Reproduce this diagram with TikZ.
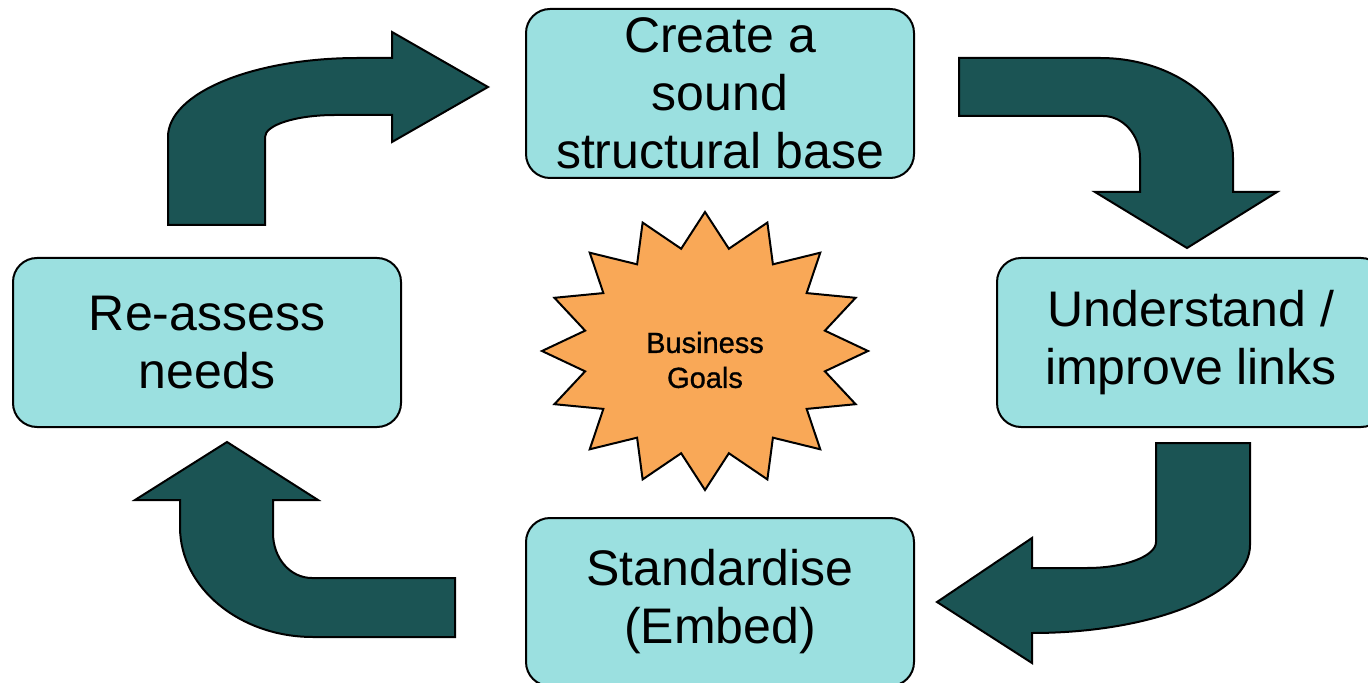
\documentclass[tikz,border=0pt]{standalone}
\usepackage{fontspec}
\setmainfont{Liberation Sans}
\newfontfamily\goalsfont[FakeBold=1]{Liberation Sans}
\usetikzlibrary{positioning}
\definecolor{stagecyan}{RGB}{155,224,224}
\definecolor{bentteal}{RGB}{27,84,84}
\definecolor{burstorange}{RGB}{249,168,87}

\begin{document}
\begin{tikzpicture}[x=0.5pt,y=-0.5pt,
    stage/.style={draw=black,line width=1pt,fill=stagecyan,rounded corners=12pt,
        align=center,inner sep=0pt,font=\fontsize{25}{29}\selectfont},
    bent/.style={draw=black,line width=1pt,fill=bentteal,line join=miter},
    burst/.style={draw=black,line width=1pt,fill=burstorange}]
    \useasboundingbox (0,0) rectangle (1368,683);
    
    \node[stage,minimum width=194pt,minimum height=84.5pt] (create) at (720,93.5)
        {Create a\\sound\\structural base};
    \node[stage,minimum width=194pt,minimum height=84.5pt] (understand) at (1191,342.5)
        {Understand /\\improve links};
    \node[stage,minimum width=194pt,minimum height=84pt] (standardise) at (720,602)
        {Standardise\\(Embed)};
    \node[stage,minimum width=194pt,minimum height=84.5pt] (reassess) at (207,342.5)
        {Re-assess\\needs};
    
    %star
    \coordinate (goalsc) at (705,351);
    \draw[burst] (868,351) \foreach \k in {1,...,31}{
        -- ({705+163*(1-0.25*mod(\k,2))*cos(11.25*\k)},{351-139*(1-0.25*mod(\k,2))*sin(11.25*\k)})
        } -- cycle;
    \node[align=center,font=\goalsfont\fontsize{14.5}{17.5}\selectfont] (goals) at (705,360) {Business\\Goals};
    
    %up and right
    \draw[bent] (168,225) -- (168,137) .. controls (168,93) and (253,58) .. (358,58)
        -- (392,58) -- (392,32) -- (488,87) -- (392,142) -- (392,115) -- (335,115)
        .. controls (296,115) and (265,125) .. (265,137) -- (265,225) -- cycle;
    %right and down
    \draw[bent] (959,58) -- (1100,58) .. controls (1173,58) and (1233,103) .. (1233,158)
        -- (1233,192) -- (1277,192) -- (1187,248) -- (1095,192) -- (1140,192) -- (1140,158)
        .. controls (1140,135) and (1123,116) .. (1103,116) -- (959,116) -- cycle;
    %down and left
    \draw[bent] (1156,443) -- (1250,443) -- (1250,545) .. controls (1250,594) and (1152,633) .. (1032,633)
        -- (1032,663) -- (937,602) -- (1032,538) -- (1032,568) -- (1087,568)
        .. controls (1125,568) and (1156,556) .. (1156,542) -- cycle;
    %left and up
    \draw[bent] (455,578) -- (312,578) .. controls (290,578) and (273,558) .. (273,533)
        -- (273,500) -- (318,500) -- (227,442) -- (135,500) -- (180,500) -- (180,527)
        .. controls (180,588) and (240,637) .. (313,637) -- (455,637) -- cycle;
\end{tikzpicture}
\end{document}
